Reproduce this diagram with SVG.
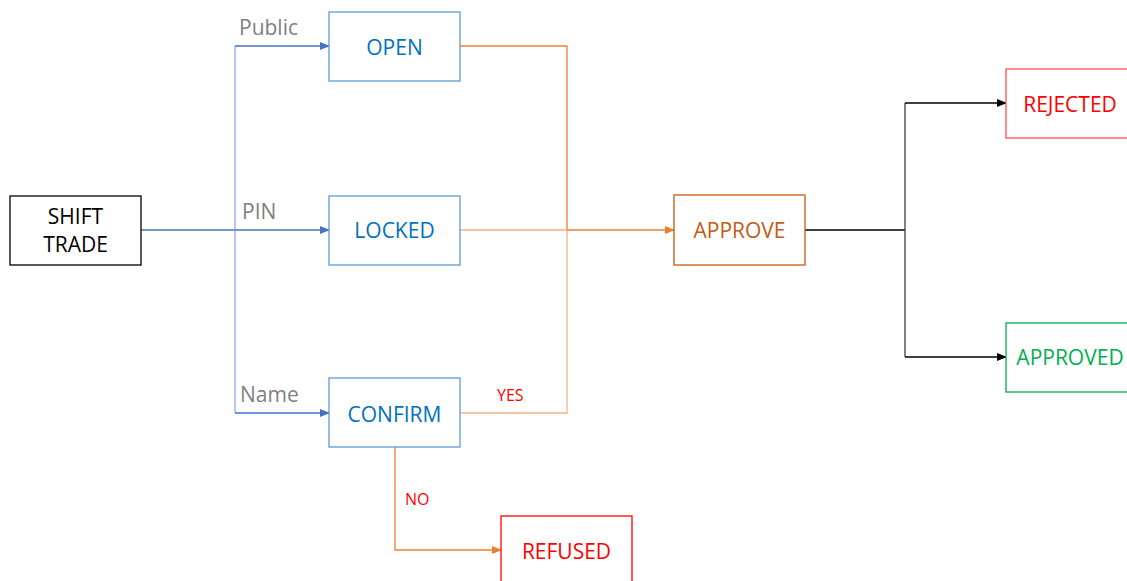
<svg xmlns="http://www.w3.org/2000/svg" width="1127" height="581" viewBox="0 0 1127 581">
<style>
text{font-family:"Open Sans","Noto Sans","Liberation Sans",sans-serif;text-anchor:middle;dominant-baseline:central}
.n{font-size:21px}
.box{fill:#fff;stroke-width:1.3}
.lbl{font-size:21px;fill:#7f7f7f;text-anchor:start}
.yn{font-size:16px;fill:#ff0000;text-anchor:start}
.c{fill:none;stroke-width:1.3}
</style>
<defs>
<marker id="ab" markerWidth="10" markerHeight="8" refX="9" refY="4" orient="auto" markerUnits="userSpaceOnUse"><path d="M0,0L10,4L0,8z" fill="#4472c4"/></marker>
<marker id="ao" markerWidth="10" markerHeight="8" refX="9" refY="4" orient="auto" markerUnits="userSpaceOnUse"><path d="M0,0L10,4L0,8z" fill="#ed7d31"/></marker>
<marker id="ak" markerWidth="10" markerHeight="8" refX="9" refY="4" orient="auto" markerUnits="userSpaceOnUse"><path d="M0,0L10,4L0,8z" fill="#000"/></marker>
</defs>
<rect width="1127" height="581" fill="#fff"/>
<g id="connectors">
<path class="c" d="M141,230H235" stroke="#4472c4" stroke-width="2"/>
<path class="c" d="M235,46V413" stroke="#8faadc"/>
<path class="c" d="M235,46H329" stroke="#4472c4" marker-end="url(#ab)"/>
<path class="c" d="M235,230H329" stroke="#4472c4" marker-end="url(#ab)"/>
<path class="c" d="M235,413H329" stroke="#4472c4" marker-end="url(#ab)"/>
<path class="c" d="M460,46H567V230" stroke="#ed7d31"/>
<path class="c" d="M567,230V413H460" stroke="#f4b183"/>
<path class="c" d="M460,230H567" stroke="#f4b183"/>
<path class="c" d="M567,230H674" stroke="#ed7d31" stroke-width="2" marker-end="url(#ao)"/>
<path class="c" d="M395,447V550H501" stroke="#ed7d31" marker-end="url(#ao)"/>
<path class="c" d="M805,230H905" stroke="#000" stroke-width="2"/>
<path class="c" d="M905,103V357" stroke="#404040"/>
<path class="c" d="M905,103H1006" stroke="#000" marker-end="url(#ak)"/>
<path class="c" d="M905,357H1006" stroke="#000" marker-end="url(#ak)"/>
<text class="lbl" x="239" y="27">Public</text>
<text class="lbl" x="242" y="211">PIN</text>
<text class="lbl" x="240" y="394">Name</text>
<text class="yn" x="497" y="395">YES</text>
<text class="yn" x="405" y="499">NO</text>
</g>
<g id="shift-trade"><rect class="box" x="10" y="196" width="131" height="69" stroke="#000"/><text class="n" x="75.5" y="216">SHIFT</text><text class="n" x="75.5" y="244">TRADE</text></g>
<g id="open"><rect class="box" x="329" y="12" width="131" height="69" stroke="#5b9bd5"/><text class="n" x="394.5" y="47" fill="#0070c0">OPEN</text></g>
<g id="locked"><rect class="box" x="329" y="196" width="131" height="69" stroke="#5b9bd5"/><text class="n" x="394.5" y="230" fill="#0070c0">LOCKED</text></g>
<g id="confirm"><rect class="box" x="329" y="378" width="131" height="69" stroke="#5b9bd5"/><text class="n" x="394.5" y="414" fill="#0070c0">CONFIRM</text></g>
<g id="approve"><rect class="box" x="674" y="195" width="131" height="70" stroke="#c55a11"/><text class="n" x="739.5" y="230" fill="#c55a11">APPROVE</text></g>
<g id="rejected"><rect class="box" x="1006" y="69" width="131" height="69" stroke="#ff5050"/><text class="n" x="1070" y="104" fill="#ff0000">REJECTED</text></g>
<g id="approved"><rect class="box" x="1006" y="323" width="131" height="69" stroke="#00b050"/><text class="n" x="1070" y="357" fill="#00b050">APPROVED</text></g>
<g id="refused"><rect class="box" x="501" y="516" width="131" height="70" stroke="#ff0000"/><text class="n" x="566.5" y="551" fill="#ff0000">REFUSED</text></g>
</svg>
